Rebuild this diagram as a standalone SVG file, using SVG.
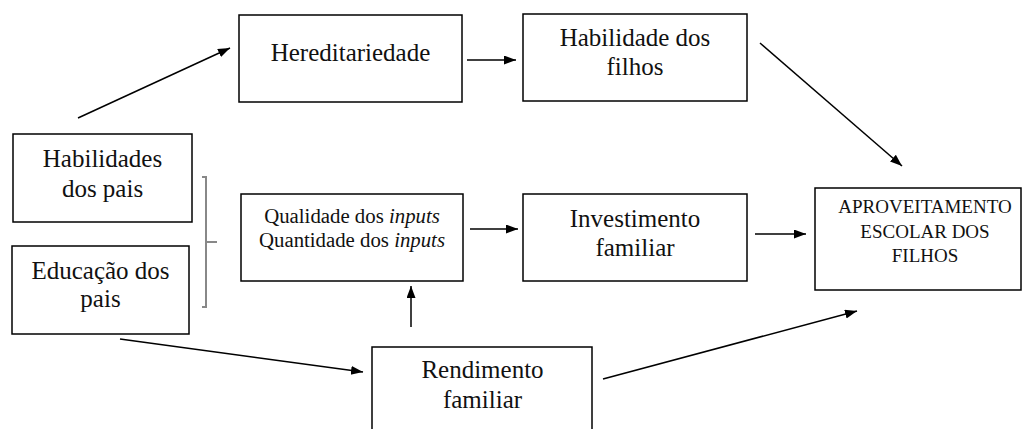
<svg xmlns="http://www.w3.org/2000/svg" width="1023" height="429" viewBox="0 0 1023 429">
<style>
.box{fill:#fff;stroke:#000;stroke-width:1.5}
.t{font-family:"Liberation Serif","Times New Roman",serif;font-size:25px;fill:#111;text-anchor:middle}
.s{font-family:"Liberation Serif","Times New Roman",serif;font-size:20.8px;fill:#111;text-anchor:middle}
.c{font-family:"Liberation Serif","Times New Roman",serif;font-size:19px;fill:#111;text-anchor:middle}
.ln{stroke:#000;stroke-width:1.5;fill:none;marker-end:url(#ah)}
.br{stroke:#888;stroke-width:2;fill:none}
</style>
<defs>
<marker id="ah" markerUnits="userSpaceOnUse" markerWidth="13" markerHeight="10" refX="12" refY="4.5" orient="auto">
<path d="M0,0 L12,4.5 L0,9 z" fill="#000"/>
</marker>
</defs>
<rect width="1023" height="429" fill="#fff"/>
<g id="connectors">
<line class="ln" x1="78" y1="118" x2="230" y2="48"/>
<line class="ln" x1="467" y1="60" x2="516" y2="60"/>
<line class="ln" x1="760" y1="43" x2="902" y2="166"/>
<line class="ln" x1="470" y1="229" x2="518" y2="229"/>
<line class="ln" x1="755" y1="234" x2="806" y2="234"/>
<line class="ln" x1="411" y1="327" x2="411" y2="286"/>
<line class="ln" x1="120" y1="339" x2="363" y2="372"/>
<line class="ln" x1="603" y1="379" x2="857" y2="311"/>
<path class="br" d="M202,177 H206 V307 H202 M206,242 H217"/>
</g>
<g id="hereditariedade">
<rect class="box" x="239" y="15" width="223" height="87"/>
<text class="t" x="350.5" y="61">Hereditariedade</text>
</g>
<g id="habilidade-filhos">
<rect class="box" x="523" y="14" width="224" height="87"/>
<text class="t" x="635" y="46">Habilidade dos</text>
<text class="t" x="635" y="75">filhos</text>
</g>
<g id="habilidades-pais">
<rect class="box" x="13" y="134" width="179" height="88"/>
<text class="t" x="102.5" y="167">Habilidades</text>
<text class="t" x="102.5" y="197">dos pais</text>
</g>
<g id="educacao-pais">
<rect class="box" x="12" y="246" width="177" height="88"/>
<text class="t" x="100.5" y="279">Educação dos</text>
<text class="t" x="100.5" y="307">pais</text>
</g>
<g id="inputs">
<rect class="box" x="241" y="194" width="222" height="87"/>
<text class="s" x="352" y="223">Qualidade dos <tspan font-style="italic">inputs</tspan></text>
<text class="s" x="352" y="247">Quantidade dos <tspan font-style="italic">inputs</tspan></text>
</g>
<g id="investimento">
<rect class="box" x="523" y="194" width="224" height="87"/>
<text class="t" x="635" y="227">Investimento</text>
<text class="t" x="635" y="256">familiar</text>
</g>
<g id="aproveitamento">
<rect class="box" x="815" y="188" width="206" height="102"/>
<text class="c" x="925" y="213">APROVEITAMENTO</text>
<text class="c" x="925" y="238">ESCOLAR DOS</text>
<text class="c" x="925" y="262">FILHOS</text>
</g>
<g id="rendimento">
<rect class="box" x="372" y="347" width="220" height="90"/>
<text class="t" x="482.5" y="378">Rendimento</text>
<text class="t" x="482.5" y="408">familiar</text>
</g>
</svg>
